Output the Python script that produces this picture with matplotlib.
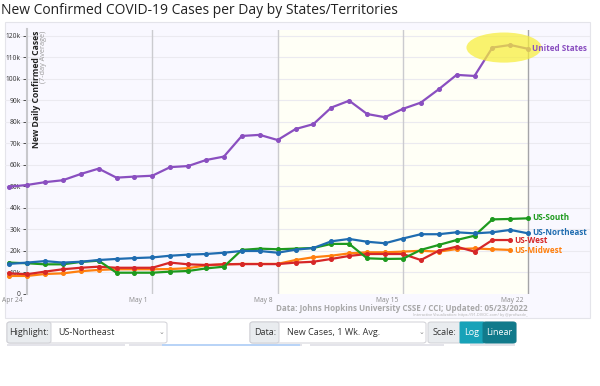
import numpy as np
import matplotlib
matplotlib.use("Agg")
import matplotlib.pyplot as plt
import matplotlib.dates as mdates
from matplotlib.patches import Rectangle, FancyBboxPatch, Ellipse

plt.rcParams['font.family'] = ['Open Sans', 'DejaVu Sans']

# ── Data (7-day avg new cases, Apr 23 – May 22, 2022) ─────────────────────────
dates = np.arange(np.datetime64('2022-04-23'), np.datetime64('2022-05-23'))

us = [49.9, 50.7, 52.0, 52.9, 55.8, 58.3, 54.1, 54.6, 55.0, 59.0,
      59.5, 62.3, 63.9, 73.5, 74.0, 71.6, 76.7, 79.0, 86.7, 89.9,
      83.7, 82.2, 86.1, 89.0, 95.2, 101.9, 101.4, 114.6, 115.8, 114.0]
northeast = [14.0, 14.6, 15.3, 14.6, 15.0, 15.8, 16.3, 16.7, 17.0, 17.8,
             18.3, 18.6, 19.2, 20.0, 20.0, 19.2, 20.6, 21.4, 24.5, 25.6,
             24.3, 23.6, 25.8, 27.8, 27.8, 28.7, 28.2, 28.7, 29.8, 28.2]
south = [14.6, 14.3, 13.8, 13.8, 14.9, 15.5, 9.9, 9.9, 9.9, 10.4,
         10.7, 11.9, 12.7, 20.5, 21.1, 20.8, 21.1, 21.4, 23.3, 23.3,
         16.6, 16.3, 16.4, 20.5, 22.8, 25.1, 27.1, 34.7, 34.9, 35.2]
west = [9.6, 9.2, 10.4, 11.5, 12.2, 12.7, 12.2, 12.2, 12.2, 14.6,
        13.8, 13.5, 13.8, 13.9, 13.9, 13.9, 14.6, 15.0, 16.3, 17.7,
        18.6, 18.6, 18.6, 15.8, 20.1, 22.0, 19.7, 25.1, 25.1]
midwest = [8.4, 8.4, 9.3, 9.6, 10.6, 11.2, 11.5, 11.5, 11.5, 11.6,
           12.0, 13.3, 13.8, 14.0, 14.0, 14.0, 15.8, 17.1, 17.8, 18.9,
           19.4, 19.4, 19.7, 20.1, 19.7, 20.9, 21.2, 20.8, 20.5]

series = [
    ("US-Midwest",    midwest,   "#ff7f0e"),
    ("US-West",       west,      "#d62728"),
    ("US-South",      south,     "#1e9a1e"),
    ("US-Northeast",  northeast, "#1f6cb0"),
    ("United States", us,        "#8a4fc0"),
]
y_ticks = np.arange(0, 121, 10)
tick_dates = ["2022-04-24", "2022-05-01", "2022-05-08", "2022-05-15", "2022-05-22"]
tick_labels = ["Apr 24", "May 1", "May 8", "May 15", "May 22"]

# ── Figure ─────────────────────────────────────────────────────────────────────
W, H = 600, 386
fig = plt.figure(figsize=(6, 3.86), dpi=100)

def fx(px): return px / W
def fy(py): return 1 - py / H
def dn(s): return mdates.date2num(np.datetime64(s))

fig.text(fx(1), fy(10), "New Confirmed COVID-19 Cases per Day by States/Territories",
         fontsize=10, color="#222222", va="center", ha="left")

# chart box background
fig.patches.append(Rectangle((fx(5), fy(318)), fx(585), (318 - 22) / H,
                             transform=fig.transFigure, facecolor="#f9f8ff",
                             edgecolor="#e4e4ea", lw=0.8, zorder=-5))

ax = fig.add_axes([fx(5), fy(294), fx(585), (294 - 29.5) / H])
ax.set_zorder(2)
ax.set_facecolor("none")

d0 = dn('2022-04-24')
ax.set_xlim(d0 + (5 - 27) / 17.9, d0 + (590 - 27) / 17.9)
ax.set_ylim(0, 123)

# last two weeks shaded faintly
ax.axvspan(dn('2022-05-08'), dn('2022-05-22'), color="#fffff6", zorder=0)

for yt in y_ticks[1:]:
    ax.axhline(yt, color="#ebeaf0", lw=0.8, zorder=1)
for td in tick_dates[1:4]:
    ax.axvline(dn(td), color="#cbcbcf", lw=1, zorder=1)
ax.axvline(dn(tick_dates[4]), color="#a4a4a8", lw=1, zorder=1)

for s in ["top", "right", "bottom"]:
    ax.spines[s].set_visible(False)
ax.spines["left"].set_position(("data", d0))
ax.spines["left"].set_color("#c8c8cc")
ax.spines["left"].set_linewidth(1.5)

ax.set_yticks(y_ticks)
ax.set_yticklabels(["0"] + [f"{v}k" for v in y_ticks[1:]])
ax.tick_params(axis="y", labelsize=4.8, colors="#333333", length=3, width=0.6, pad=1.5)

ax.set_xticks([dn(t) for t in tick_dates])
ax.set_xticklabels([])
ax.tick_params(axis="x", length=0)
for t, lab in zip(tick_dates, tick_labels):
    ax.text(dn(t) - 0.25, -1.5, lab, fontsize=4.8, color="#888888",
            ha="right", va="top", clip_on=False)

for name, vals, col in series:
    xs = mdates.date2num(dates[:len(vals)])
    ax.plot(xs, vals, color=col, lw=1.6, marker="o", ms=2.6, zorder=3,
            solid_joinstyle="round", clip_on=False)

# highlighter mark over the US peak
ax.add_patch(Ellipse((dn('2022-05-20') + 0.65, 114.6), width=4.2, height=14.0,
                     facecolor="#f7ee3a", edgecolor="none", alpha=0.72, zorder=3.5))

labels_pos = {
    "United States": (dn('2022-05-22') + 0.2, 114.0),
    "US-South":      (dn('2022-05-22') + 0.2, 35.6),
    "US-Northeast":  (dn('2022-05-22') + 0.2, 28.6),
    "US-West":       (dn('2022-05-21') + 0.2, 25.0),
    "US-Midwest":    (dn('2022-05-21') + 0.2, 20.4),
}
for name, vals, col in series:
    x, y = labels_pos[name]
    ax.text(x, y, name, color=col, fontsize=5.9, fontweight="bold",
            ha="left", va="center", zorder=4)

ax.text(d0 + 0.3, 122.5, "New Daily Confirmed Cases", rotation=90, fontsize=6.2,
        fontweight="bold", color="#222222", ha="left", va="top")
ax.text(d0 + 0.72, 122.5, "(7-day Average)", rotation=90, fontsize=5.2,
        color="#999999", ha="left", va="top")

# footer
fig.text(fx(528), fy(308), "Data: Johns Hopkins University CSSE / CCI; Updated: 05/23/2022",
         fontsize=5.8, color="#a8a8a8", fontweight="bold", ha="right", va="center")
fig.text(fx(528), fy(315), "Interactive Visualization: https://91-DIVOC.com/ by @profwade_",
         fontsize=2.8, color="#b0b0b0", ha="right", va="center")

# control bar
def box(x0, y0, x1, y1, fc, ec="#d0d0d6", r=3):
    fig.patches.append(FancyBboxPatch((fx(x0), fy(y1)), fx(x1 - x0), (y1 - y0) / H,
                                      boxstyle=f"round,pad=0,rounding_size={r / W}",
                                      transform=fig.transFigure, facecolor=fc,
                                      edgecolor=ec, lw=0.7, zorder=1))

box(7, 322, 167, 343, "#ffffff")
box(7, 322, 51, 343, "#e9ecef")
fig.text(fx(29), fy(332.5), "Highlight:", fontsize=6.5, color="#333333", ha="center", va="center")
fig.text(fx(58), fy(332.5), "US-Northeast", fontsize=6.5, color="#333333", ha="left", va="center")
fig.text(fx(162), fy(332.5), "⌄", fontsize=5, color="#888888", ha="center", va="center")

box(250, 322, 426, 343, "#ffffff")
box(250, 322, 279, 343, "#e9ecef")
fig.text(fx(265), fy(332.5), "Data:", fontsize=6.5, color="#333333", ha="center", va="center")
fig.text(fx(287), fy(332.5), "New Cases, 1 Wk. Avg.", fontsize=6.5, color="#333333",
         ha="left", va="center")
fig.text(fx(421), fy(332.5), "⌄", fontsize=5, color="#888888", ha="center", va="center")

box(428, 322, 516, 343, "#e9ecef")
fig.text(fx(444), fy(332.5), "Scale:", fontsize=6.5, color="#333333", ha="center", va="center")
box(460, 322, 484, 343, "#17a2b8", ec="#17a2b8", r=1)
box(483, 322, 516, 343, "#117a8b", ec="#117a8b", r=3)
fig.text(fx(472), fy(332.5), "Log", fontsize=6.5, color="white", ha="center", va="center")
fig.text(fx(499.5), fy(332.5), "Linear", fontsize=6.5, color="white", ha="center", va="center")

# tops of the next (cut off) control row
for x0, x1, c in [(7, 125, "#e4e4ea"), (129, 302, "#e4e4ea"), (162, 300, "#b9d4f7"),
                  (310, 444, "#e4e4ea"), (470, 515, "#e4e4ea")]:
    fig.patches.append(Rectangle((fx(x0), fy(345.5)), fx(x1 - x0), 1.5 / H,
                                 transform=fig.transFigure, facecolor=c,
                                 edgecolor="none", zorder=1))

fig.savefig("out.png", dpi=100)
